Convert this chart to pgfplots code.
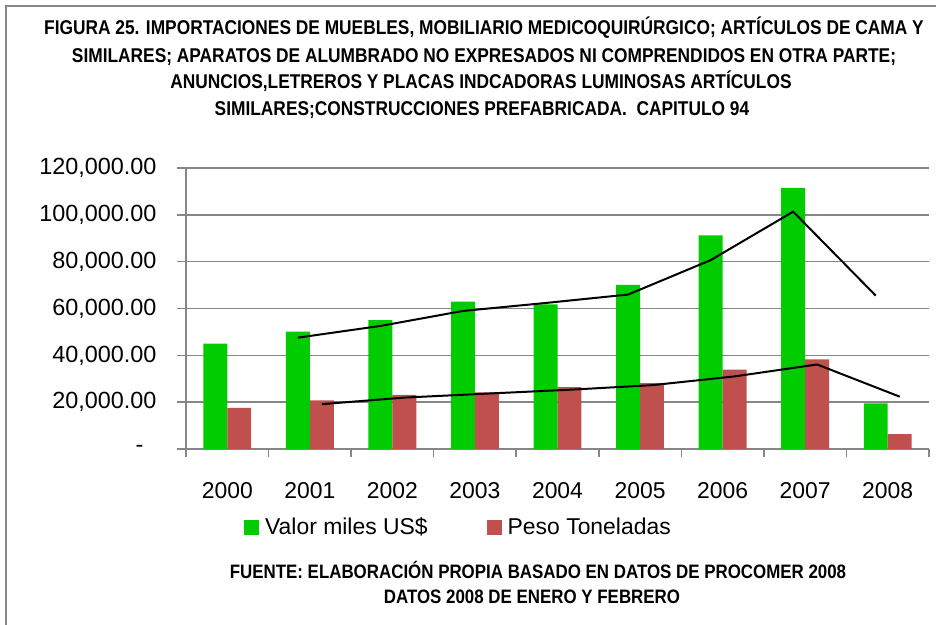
\documentclass[border=0pt]{standalone}
\usepackage{fontspec}
\setmainfont{Liberation Sans}
\newfontfamily\condbold{Liberation Sans}[UprightFont=* Bold, FakeStretch=0.87]
\usepackage{pgfplots}
\usepackage{pgfplotstable}
\pgfplotsset{compat=1.18}

\definecolor{barGreen}{RGB}{0,204,0}
\definecolor{barRed}{RGB}{192,80,77}
\definecolor{axisGray}{RGB}{134,134,134}

% anio, valor miles US$, peso toneladas
\pgfplotstableread{
x valor peso
0 45000 17600
1 50100 20800
2 55000 23100
3 62900 24200
4 61800 26400
5 70100 28100
6 91200 33900
7 111500 38300
8 19500 6400
}\datos

\newcommand{\titlefont}{\condbold\fontsize{20}{22}\selectfont}

\begin{document}
\begin{tikzpicture}
\useasboundingbox (0,0) rectangle (936bp,625bp);
\draw[axisGray, line width=2bp] (6bp,-10bp) -- (6bp,619bp) -- (950bp,619bp);

\node[anchor=base, font=\titlefont] at (484bp,590bp) {FIGURA 25. IMPORTACIONES DE MUEBLES, MOBILIARIO MEDICOQUIRÚRGICO; ARTÍCULOS DE CAMA Y};
\node[anchor=base, font=\titlefont] at (484bp,562bp) {SIMILARES; APARATOS DE ALUMBRADO NO EXPRESADOS NI COMPRENDIDOS EN OTRA PARTE;};
\node[anchor=base, font=\titlefont] at (481bp,536bp) {ANUNCIOS,LETREROS Y PLACAS INDCADORAS LUMINOSAS ARTÍCULOS};
\node[anchor=base, font=\titlefont] at (482bp,509bp) {SIMILARES;CONSTRUCCIONES PREFABRICADA.\ \ CAPITULO 94};

\begin{axis}[
  at={(186bp,176bp)}, anchor=south west,
  scale only axis, width=743bp, height=281bp,
  xmin=-0.5, xmax=8.5, ymin=0, ymax=120000,
  axis lines*=left,
  axis line style={axisGray, line width=1.5bp},
  ymajorgrids, grid style={axisGray, line width=1.5bp},
  scaled y ticks=false,
  ytick={0,20000,...,120000},
  yticklabels={{-\kern13bp},{20,000.00},{40,000.00},{60,000.00},{80,000.00},{100,000.00},{120,000.00}},
  xtick={0,...,8},
  xticklabels={2000,2001,2002,2003,2004,2005,2006,2007,2008},
  minor xtick={-0.5,0.5,...,8.5},
  xtick align=outside, ytick align=outside,
  major tick length=9bp, minor tick length=8bp,
  tick style={axisGray, line width=1.5bp},
  major x tick style={draw=none},
  ticklabel style={font=\fontsize{23}{27}\selectfont},
  yticklabel style={xshift=-17bp, font=\fontsize{23.5}{27}\selectfont},
  xticklabel style={yshift=-21bp},
  legend columns=2,
  legend image code/.code={\fill[#1] (0bp,-7.5bp) rectangle (15bp,7.5bp);},
  legend style={at={(0.078,-0.2776)}, anchor=west, draw=none, fill=none,
    inner sep=0pt, font=\fontsize{23}{27}\selectfont,
    /tikz/every odd column/.append style={column sep=4bp},
    /tikz/every even column/.append style={column sep=57bp}},
]
\addplot[ybar, bar width=0.29, bar shift=-0.145, fill=barGreen, draw=none] table[x=x, y=valor] {\datos};
\addplot[ybar, bar width=0.29, bar shift=0.145, fill=barRed, draw=none] table[x=x, y=peso] {\datos};

% medias moviles de 2 periodos
\addplot[black, line width=2bp, forget plot] coordinates {
  (0.855,47550) (1.855,52550) (2.855,58950) (3.855,62350)
  (4.855,65950) (5.855,80650) (6.855,101350) (7.855,65500)};
\addplot[black, line width=2bp, forget plot] coordinates {
  (1.145,19150) (2.145,21950) (3.145,23650) (4.145,25300)
  (5.145,27250) (6.145,31000) (7.145,36100) (8.145,22350)};

\legend{Valor miles US\$, Peso Toneladas}
\end{axis}

\node[anchor=base, font=\condbold\fontsize{19.5}{22}\selectfont] at (538bp,46bp) {FUENTE: ELABORACIÓN PROPIA BASADO EN DATOS DE PROCOMER 2008};
\node[anchor=base, font=\condbold\fontsize{19.5}{22}\selectfont] at (532bp,22bp) {DATOS 2008 DE ENERO Y FEBRERO};
\end{tikzpicture}
\end{document}
